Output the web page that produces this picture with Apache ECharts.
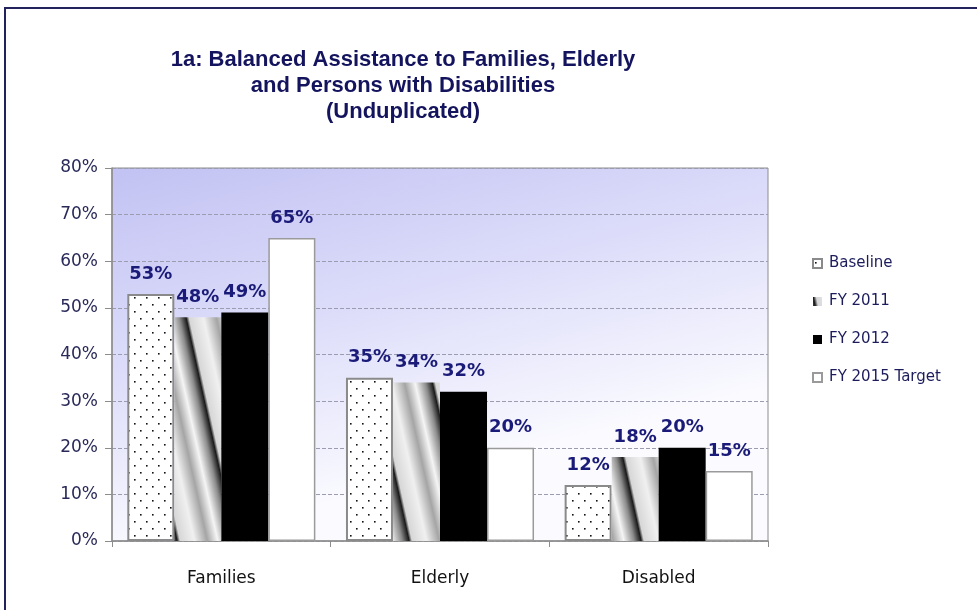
<!DOCTYPE html>
<html>
<head>
<meta charset="utf-8">
<script src="https://cdn.jsdelivr.net/npm/echarts@6/dist/echarts.min.js"></script>
<style>
  html, body { margin: 0; padding: 0; background: #ffffff; }
  #chart { width: 977px; height: 610px; }
</style>
</head>
<body>
<div id="chart"></div>
<script>
// Groups along the x axis
const categories = ['Families', 'Elderly', 'Disabled'];
// Share of unduplicated recipients, percent
const baseline = [53, 35, 12];
const fy2011 = [48, 34, 18];
const fy2012 = [49, 32, 20];
const fy2015Target = [65, 20, 15];
const seriesNames = ['Baseline', 'FY 2011', 'FY 2012', 'FY 2015 Target'];
const yTicks = { min: 0, max: 80, interval: 10 };

// Dotted fill for the baseline bars
function dotPattern() {
  const c = document.createElement('canvas');
  c.width = 12; c.height = 14;
  const g = c.getContext('2d');
  g.fillStyle = '#ffffff';
  g.fillRect(0, 0, 12, 14);
  g.fillStyle = '#111111';
  g.fillRect(2, 3, 1.6, 1.6);
  g.fillRect(8, 10, 1.6, 1.6);
  return { image: c, repeat: 'repeat' };
}

// Slanted metallic streaks for FY 2011 (tileable sheared sawtooth)
function streakPattern() {
  const W = 58, H = 264;
  const c = document.createElement('canvas');
  c.width = W; c.height = H;
  const g = c.getContext('2d');
  const img = g.createImageData(W, H);
  const stops = [
    [0, 30], [0.05, 215], [0.3, 240], [0.52, 165], [0.7, 245], [0.88, 140], [1, 25]
  ];
  function shade(p) {
    for (let k = 1; k < stops.length; k++) {
      if (p <= stops[k][0]) {
        const a = stops[k - 1], b = stops[k];
        const t = (p - a[0]) / (b[0] - a[0]);
        return a[1] + (b[1] - a[1]) * t;
      }
    }
    return stops[stops.length - 1][1];
  }
  for (let y = 0; y < H; y++) {
    for (let x = 0; x < W; x++) {
      const p = ((x - y * W / H) % W + W) % W / W;
      const v = Math.round(shade(p));
      const i = (y * W + x) * 4;
      img.data[i] = v; img.data[i + 1] = v; img.data[i + 2] = v; img.data[i + 3] = 255;
    }
  }
  g.putImageData(img, 0, 0);
  return { image: c, repeat: 'repeat' };
}

const labelStyle = {
  show: true,
  position: 'top',
  distance: 11,
  formatter: '{c}%',
  color: '#1a1a78',
  fontFamily: 'DejaVu Sans',
  fontWeight: 'bold',
  fontSize: 18
};

const styles = [
  { color: dotPattern(), borderColor: '#8a8a8a', borderWidth: 2 },
  { color: streakPattern() },
  { color: '#000000' },
  { color: '#ffffff', borderColor: '#9a9a9a', borderWidth: 1.5 }
];
const values = [baseline, fy2011, fy2012, fy2015Target];

const chart = echarts.init(document.getElementById('chart'), null, { renderer: 'canvas' });
chart.setOption({
  animation: false,
  backgroundColor: '#ffffff',
  title: {
    text: '1a: Balanced Assistance to Families, Elderly\nand Persons with Disabilities\n(Unduplicated)',
    left: 398,
    top: 42,
    textAlign: 'center',
    textStyle: {
      fontFamily: 'Liberation Sans Narrow, Liberation Sans, sans-serif',
      fontWeight: 'bold',
      fontSize: 22,
      lineHeight: 26,
      color: '#14145e'
    }
  },
  graphic: [{
    type: 'rect',
    shape: { x: 5, y: 8, width: 1000, height: 700 },
    style: { fill: 'none', stroke: '#22225c', lineWidth: 2 },
    silent: true
  }],
  legend: {
    orient: 'vertical',
    left: 807,
    top: 251,
    itemGap: 23,
    itemWidth: 9,
    itemHeight: 9,
    icon: 'rect',
    data: seriesNames,
    textStyle: {
      fontFamily: 'DejaVu Sans',
      fontSize: 15,
      color: '#1c1c5c',
      padding: [0, 0, 0, 2]
    }
  },
  grid: {
    left: 112,
    right: 209,
    top: 168,
    bottom: 69,
    show: true,
    borderColor: '#8c8c8c',
    borderWidth: 1,
    backgroundColor: new echarts.graphic.LinearGradient(0, 0, 0.15, 1, [
      { offset: 0, color: '#c2c2f3' },
      { offset: 0.5, color: '#dcdcfa' },
      { offset: 1, color: '#fbfbff' }
    ])
  },
  xAxis: {
    type: 'category',
    data: categories,
    axisLine: { lineStyle: { color: '#8c8c8c', width: 1.5 } },
    axisTick: { show: true, length: 6, lineStyle: { color: '#8c8c8c' } },
    axisLabel: {
      margin: 29,
      fontFamily: 'DejaVu Sans',
      fontSize: 17,
      color: '#111111'
    }
  },
  yAxis: {
    type: 'value',
    min: yTicks.min,
    max: yTicks.max,
    interval: yTicks.interval,
    axisLine: { show: true, lineStyle: { color: '#8c8c8c', width: 1.5 } },
    axisTick: { show: true, length: 7, lineStyle: { color: '#8c8c8c' } },
    axisLabel: {
      formatter: '{value}%',
      margin: 14,
      fontFamily: 'DejaVu Sans',
      fontSize: 17,
      color: '#2a2a5a'
    },
    splitLine: { show: true, lineStyle: { color: '#9c9cb0', type: 'dashed' } }
  },
  series: seriesNames.map((name, i) => ({
    name: name,
    type: 'bar',
    data: values[i],
    barGap: '0%',
    barCategoryGap: '14%',
    itemStyle: styles[i],
    label: labelStyle
  }))
});
</script>
</body>
</html>
